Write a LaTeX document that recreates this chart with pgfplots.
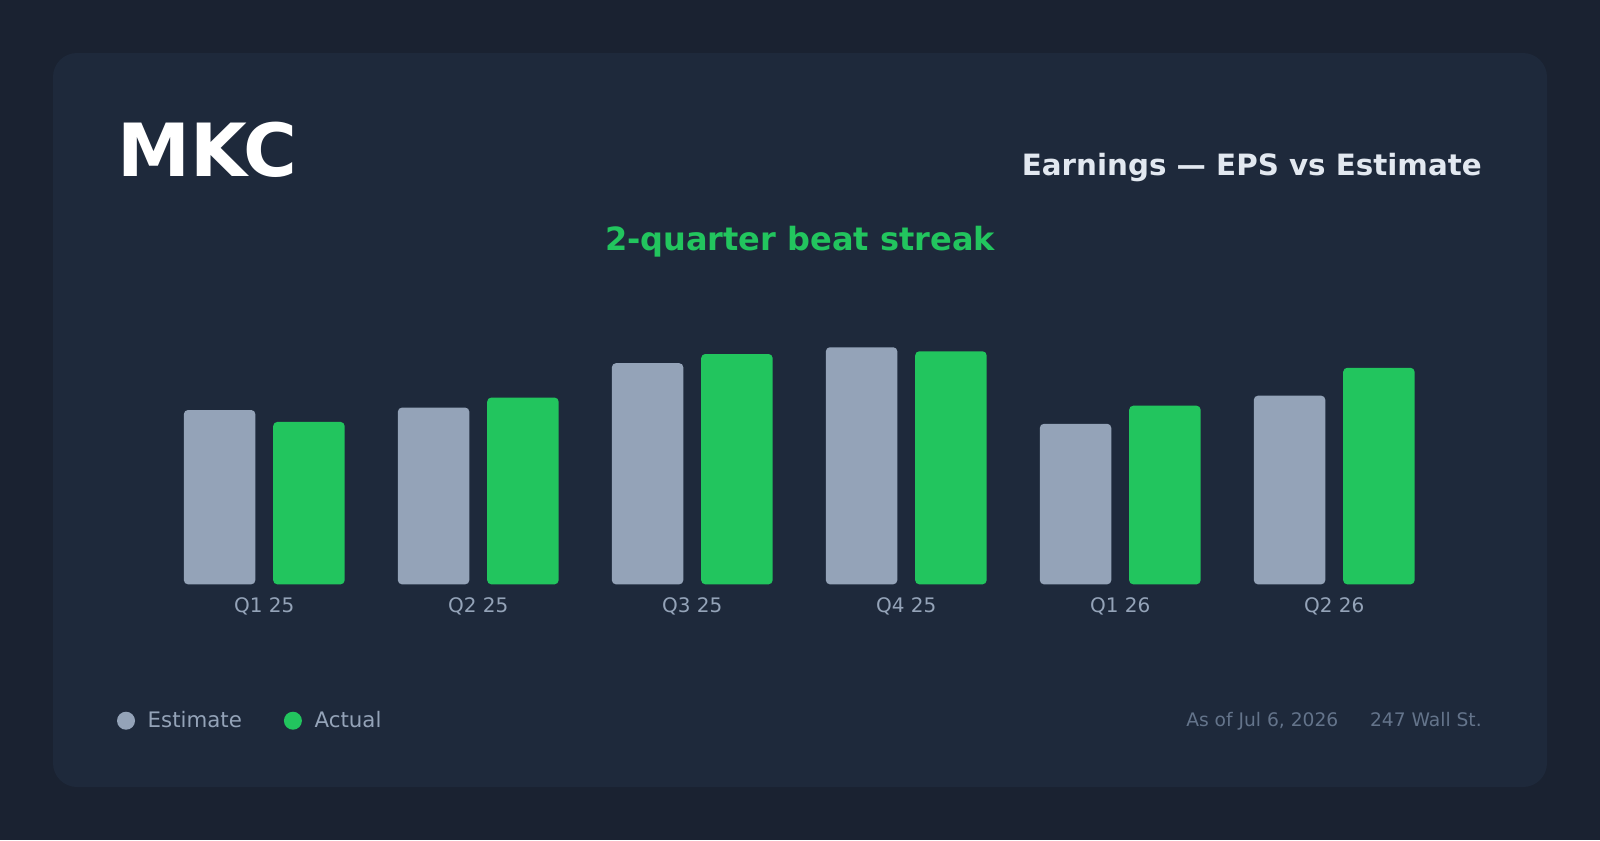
\documentclass[border=0pt]{standalone}
\usepackage{pgfplots}
\pgfplotsset{compat=1.18}
\usepackage{fontspec}
\setmainfont{DejaVu Sans}
\definecolor{outerbg}{HTML}{1A2231}
\definecolor{card}{HTML}{1E293B}
\definecolor{est}{HTML}{94A3B8}
\definecolor{act}{HTML}{22C55E}
\definecolor{sub}{HTML}{E2E8F0}
\definecolor{foot}{HTML}{64748B}
\newcommand\fs[1]{\fontsize{#1}{#1}\selectfont}
\begin{document}
\begin{tikzpicture}[x=0.75pt,y=-0.75pt]
\fill[outerbg] (0,0) rectangle (1600,840);
\fill[card, rounded corners=18pt] (53,53) rectangle (1547,787);
\node[anchor=base west, inner sep=0, text=white, font=\bfseries\fs{55pt}] at (117,176) {MKC};
\node[anchor=base east, inner sep=0, text=sub, font=\bfseries\fs{22pt}] at (1482,175.7) {Earnings — EPS vs Estimate};
\node[anchor=base, inner sep=0, text=act, font=\bfseries\fs{24pt}] at (800,250) {2-quarter beat streak};
\node[anchor=base west, inner sep=0, text=foot, font=\fs{14pt}] at (1186,726) {As of Jul 6, 2026};
\node[anchor=base east, inner sep=0, text=foot, font=\fs{14pt}] at (1482,726) {247 Wall St.};
\begin{axis}[
  at={(112.5pt,-438.225pt)}, anchor=south west,
  scale only axis, width=975pt, height=202.95pt,
  xmin=-0.534, xmax=5.541, ymin=0, ymax=1,
  ybar, bar width=53.55pt,
  axis line style={draw=none}, tick style={draw=none}, major tick length=0pt,
  ytick=\empty,
  xtick={0,1,2,3,4,5},
  xticklabels={Q1 25,Q2 25,Q3 25,Q4 25,Q1 26,Q2 26},
  xticklabel style={font=\fs{15pt}, text=est, anchor=base, yshift=-21.5pt},
  clip=false,
  legend columns=2,
  legend style={at={(-0.02538,-0.5041)}, anchor=west, draw=none, fill=none,
    text=est, font=\fs{16pt}, inner sep=0pt, outer sep=0pt,
    nodes={inner sep=0pt},
    /tikz/every odd column/.append style={column sep=9.5pt},
    /tikz/every even column/.append style={column sep=31.5pt}},
]
\addplot[fill=est, draw=none, rounded corners=3pt, bar shift=-33.5pt,
  legend image code/.code={\fill[est] (6.75pt,0pt) circle (6.75pt);}]
  coordinates {(0,0.644) (1,0.653) (2,0.817) (3,0.876) (4,0.593) (5,0.697)};
\addlegendentry{Estimate}
\addplot[fill=act, draw=none, rounded corners=3pt, bar shift=33.5pt,
  legend image code/.code={\fill[act] (6.75pt,0pt) circle (6.75pt);}]
  coordinates {(0,0.600) (1,0.690) (2,0.851) (3,0.861) (4,0.660) (5,0.800)};
\addlegendentry{Actual}
\end{axis}
\end{tikzpicture}
\end{document}
